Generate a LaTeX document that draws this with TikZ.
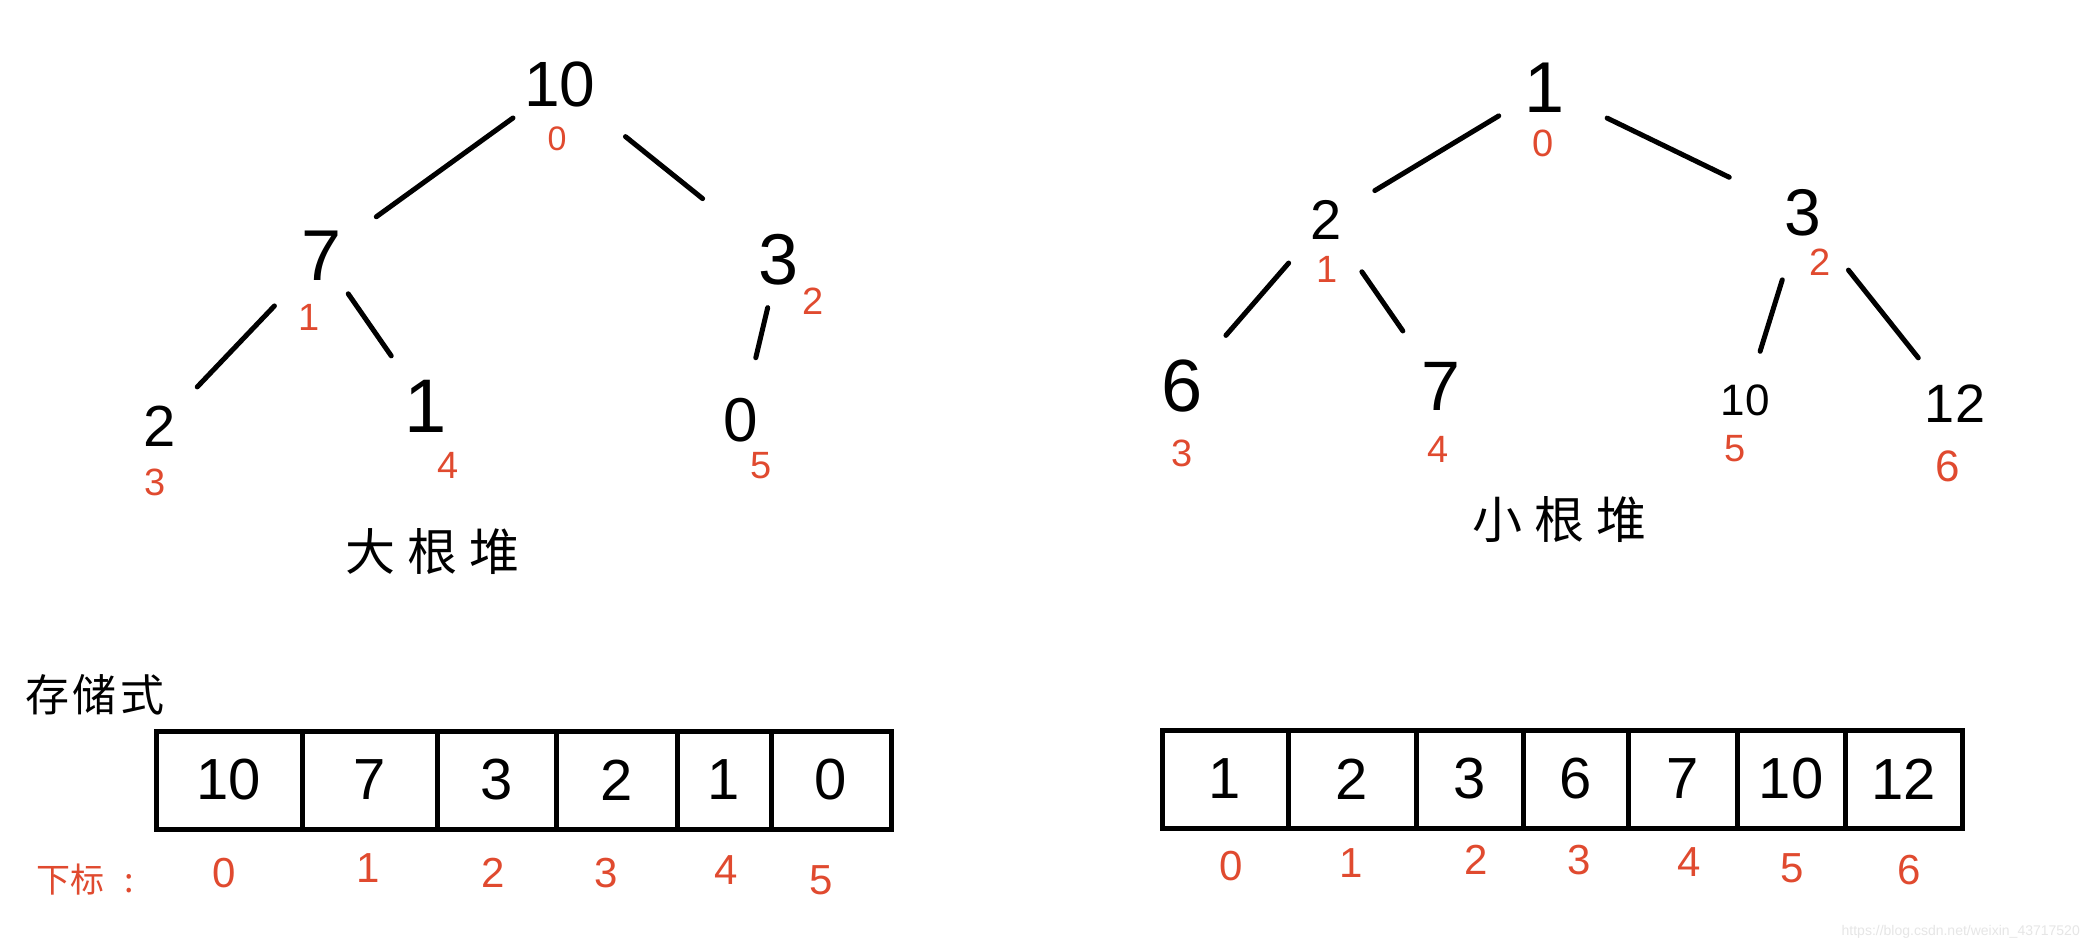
\documentclass[tikz,border=0pt]{standalone}
\usepackage{fontspec}
\setmainfont{Liberation Sans}
\newfontfamily\cjk{Noto Sans CJK SC}
\definecolor{idxred}{HTML}{E04A2F}
\definecolor{wm}{HTML}{E6E6E6}
\tikzset{
  num/.style={font=\fontsize{#1}{#1}\selectfont, inner sep=0pt, text=black},
  num/.default=64,
  idx/.style={font=\fontsize{#1}{#1}\selectfont, inner sep=0pt, text=idxred},
  idx/.default=38,
  edge/.style={line width=5pt, line cap=round, black},
  cell/.style={draw, line width=5pt, minimum height=98pt, inner sep=0pt,
    font=\fontsize{58}{58}\selectfont},
  label/.style={font=\cjk\fontsize{#1}{#1}\selectfont, inner sep=0pt},
}
\begin{document}
\begin{tikzpicture}[x=1pt,y=-1pt]
\useasboundingbox (0,0) rectangle (2089,950);
\fill[white] (0,0) rectangle (2089,950);

% ---------- big heap ----------
\node[num=64] (b0) at (560,84) {10};
\node[num=72] (b1) at (322,256) {7};
\node[num=72] (b2) at (779,260) {3};
\node[num=58] (b3) at (160,426) {2};
\node[num=76] (b4) at (426,406) {1};
\node[num=62] (b5) at (741,420) {0};
\node[idx=34] (bi0) at (557,139) {0};
\node[idx] (bi1) at (309,317) {1};
\node[idx] (bi2) at (813,301) {2};
\node[idx] (bi3) at (155,482) {3};
\node[idx] (bi4) at (448,465) {4};
\node[idx] (bi5) at (761,466) {5};
\draw[edge, shorten <=58pt, shorten >=67pt] (b0.center) -- (b1.center);
\draw[edge, shorten <=84pt, shorten >=98pt] (b0.center) -- (b2.center);
\draw[edge, shorten <=69pt, shorten >=54pt] (b1.center) -- (b3.center);
\draw[edge, shorten <=46pt, shorten >=61pt] (b1.center) -- (b4.center);
\draw[edge, shorten <=49pt, shorten >=64pt] (b2.center) -- (b5.center);
\node[label=50] (bl) at (432,552) {大\hspace{12pt}根\hspace{12pt}堆};

% ---------- small heap ----------
\node[num=72] (s0) at (1545,88) {1};
\node[num=56] (s1) at (1326,220) {2};
\node[num=66] (s2) at (1803,213) {3};
\node[num=74] (s3) at (1182,386) {6};
\node[num=70] (s4) at (1441,386) {7};
\node[num=44] (s5) at (1745,400) {10};
\node[num=54] (s6) at (1955,404) {12};
\node[idx] (si0) at (1543,143) {0};
\node[idx] (si1) at (1327,269) {1};
\node[idx] (si2) at (1820,262) {2};
\node[idx] (si3) at (1182,453) {3};
\node[idx] (si4) at (1438,449) {4};
\node[idx] (si5) at (1735,449) {5};
\node[idx=44] (si6) at (1948,466) {6};
\draw[edge, shorten <=54pt, shorten >=57pt] (s0.center) -- (s1.center);
\draw[edge, shorten <=69pt, shorten >=82pt] (s0.center) -- (s2.center);
\draw[edge, shorten <=57pt, shorten >=67pt] (s1.center) -- (s3.center);
\draw[edge, shorten <=63pt, shorten >=67pt] (s1.center) -- (s4.center);
\draw[edge, shorten <=70pt, shorten >=51pt] (s2.center) -- (s5.center);
\draw[edge, shorten <=73pt, shorten >=59pt] (s2.center) -- (s6.center);
\node[label=50] (sl) at (1559,520) {小\hspace{12pt}根\hspace{12pt}堆};

% ---------- storage ----------
\node[label=44] (st) at (95,695) {存\hspace{4pt}储\hspace{4pt}式};
\node[label=34, text=idxred] (xb) at (85,880) {下标\hspace{20pt}:};

% left array
\node[cell, minimum width=146pt] (a0) at (229,780) {10};
\node[cell, minimum width=135pt] (a1) at (369.5,780) {7};
\node[cell, minimum width=119pt] (a2) at (496.5,780) {3};
\node[cell, minimum width=121pt] (a3) at (616.5,780) {2};
\node[cell, minimum width=94pt] (a4) at (724,780) {1};
\node[cell, minimum width=120pt] (a5) at (831,780) {0};
\node[idx=42] (ai0) at (224,873) {0};
\node[idx=42] (ai1) at (368,868) {1};
\node[idx=42] (ai2) at (493,873) {2};
\node[idx=42] (ai3) at (606,873) {3};
\node[idx=42] (ai4) at (726,870) {4};
\node[idx=42] (ai5) at (821,880) {5};

% right array
\node[cell, minimum width=126pt] (c0) at (1225,779) {1};
\node[cell, minimum width=128pt] (c1) at (1352,779) {2};
\node[cell, minimum width=107pt] (c2) at (1469.5,779) {3};
\node[cell, minimum width=105pt] (c3) at (1575.5,779) {6};
\node[cell, minimum width=109pt] (c4) at (1682.5,779) {7};
\node[cell, minimum width=108pt] (c5) at (1791,779) {10};
\node[cell, minimum width=117pt] (c6) at (1903.5,779) {12};
\node[idx=42] (ci0) at (1231,866) {0};
\node[idx=42] (ci1) at (1351,863) {1};
\node[idx=42] (ci2) at (1476,860) {2};
\node[idx=42] (ci3) at (1579,860) {3};
\node[idx=42] (ci4) at (1689,862) {4};
\node[idx=42] (ci5) at (1792,868) {5};
\node[idx=42] (ci6) at (1909,870) {6};

% watermark
\node[font=\fontsize{14}{14}\selectfont, text=wm, anchor=east, inner sep=0pt] (w) at (2080,932) {https://blog.csdn.net/weixin\_43717520};
\end{tikzpicture}
\end{document}
